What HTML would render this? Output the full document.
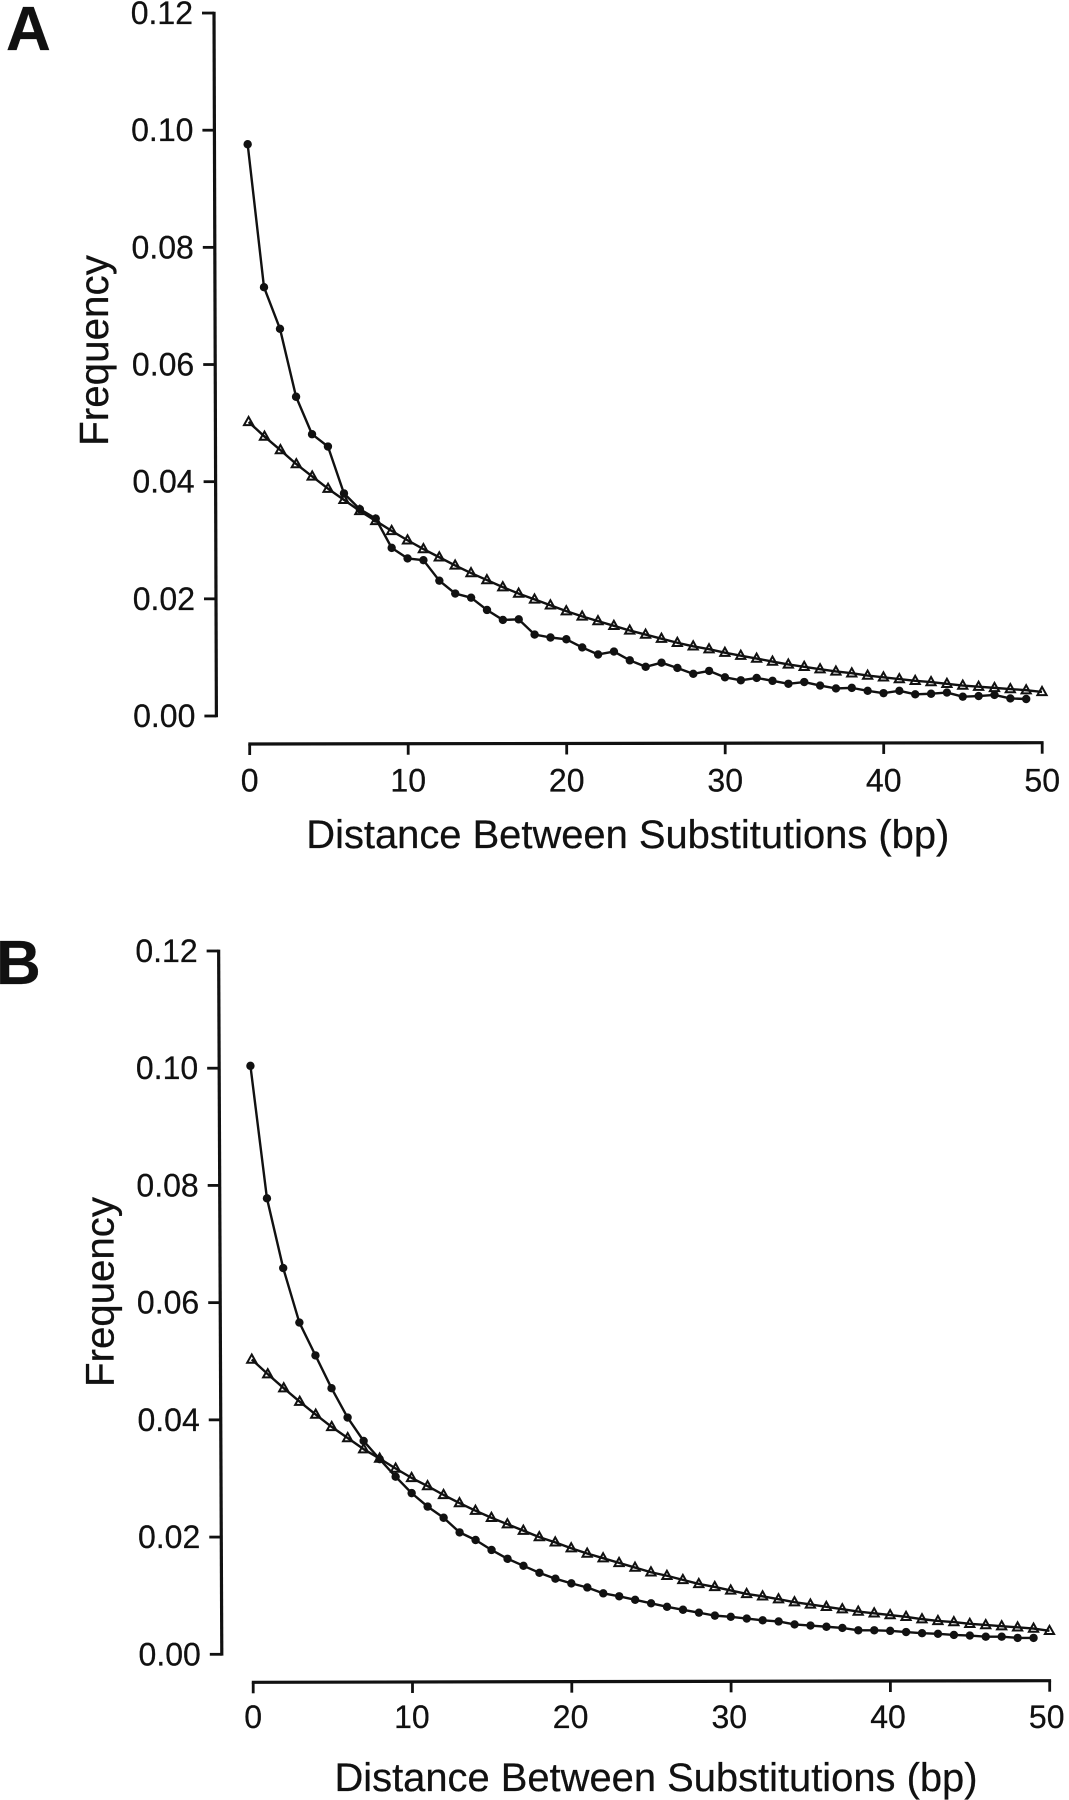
<!DOCTYPE html>
<html lang="en">
<head>
<meta charset="utf-8">
<title>Distance Between Substitutions</title>
<style>
html,body{margin:0;padding:0;background:#fff;}
svg{display:block;}
text{font-family:"Liberation Sans",Arial,sans-serif;fill:#111;stroke:#111;stroke-width:0.25px;}
</style>
</head>
<body>
<svg id="figure" xmlns="http://www.w3.org/2000/svg" width="1069" height="1800" viewBox="0 0 1069 1800">
  <rect x="0" y="0" width="1069" height="1800" fill="#fff"/>
  <text x="6" y="50" font-size="62" font-weight="700" fill="#000">A</text>
  <text x="-4" y="984" font-size="62" font-weight="700" fill="#000">B</text>
  <text x="627.8" y="848" font-size="39.9" text-anchor="middle">Distance Between Substitutions (bp)</text>
  <text x="656" y="1791" font-size="39.9" text-anchor="middle">Distance Between Substitutions (bp)</text>
  <text transform="translate(108 350.5) rotate(-90)" font-size="40.4" text-anchor="middle">Frequency</text>
  <text transform="translate(113.5 1292) rotate(-90)" font-size="40.2" text-anchor="middle">Frequency</text>
</svg>
<script>
var yTickValues = [0, 0.02, 0.04, 0.06, 0.08, 0.10, 0.12];
var yTickLabels = ["0.00", "0.02", "0.04", "0.06", "0.08", "0.10", "0.12"];
var xTickValues = [0, 10, 20, 30, 40, 50];
var xTickLabels = ["0", "10", "20", "30", "40", "50"];

var panelAObserved = [0.0976,0.0732,0.0661,0.0545,0.0481,0.0460,0.0380,0.0353,0.0337,0.0287,0.0269,0.0266,0.0231,0.0209,0.0202,0.0181,0.0164,0.0165,0.0139,0.0134,0.0131,0.0117,0.0105,0.0110,0.0095,0.0084,0.0091,0.0082,0.0072,0.0077,0.0066,0.0061,0.0065,0.0060,0.0055,0.0058,0.0052,0.0047,0.0048,0.0043,0.0039,0.0043,0.0037,0.0038,0.0040,0.0033,0.0034,0.0036,0.0030,0.0029];
var panelAExpected = [0.0502,0.0477,0.0454,0.0430,0.0409,0.0388,0.0369,0.0350,0.0333,0.0316,0.0300,0.0285,0.0271,0.0257,0.0244,0.0232,0.0220,0.0209,0.0199,0.0189,0.0179,0.0170,0.0162,0.0154,0.0146,0.0139,0.0132,0.0125,0.0119,0.0114,0.0108,0.0103,0.0098,0.0093,0.0088,0.0084,0.0080,0.0076,0.0073,0.0069,0.0066,0.0063,0.0060,0.0058,0.0055,0.0052,0.0050,0.0048,0.0046,0.0044,0.0041];
var panelBObserved = [0.1004,0.0778,0.0659,0.0566,0.0510,0.0454,0.0404,0.0364,0.0333,0.0303,0.0275,0.0252,0.0233,0.0208,0.0195,0.0178,0.0163,0.0151,0.0139,0.0129,0.0121,0.0114,0.0104,0.0099,0.0093,0.0087,0.0081,0.0076,0.0071,0.0066,0.0064,0.0061,0.0058,0.0056,0.0051,0.0049,0.0047,0.0045,0.0041,0.0041,0.0040,0.0038,0.0036,0.0035,0.0033,0.0032,0.0030,0.0030,0.0028,0.0028];
var panelBExpected = [0.0503,0.0478,0.0454,0.0431,0.0409,0.0388,0.0369,0.0350,0.0334,0.0317,0.0301,0.0287,0.0272,0.0258,0.0245,0.0233,0.0222,0.0211,0.0200,0.0191,0.0181,0.0172,0.0164,0.0156,0.0148,0.0140,0.0134,0.0127,0.0120,0.0115,0.0109,0.0103,0.0099,0.0094,0.0089,0.0085,0.0081,0.0077,0.0073,0.0070,0.0067,0.0064,0.0060,0.0057,0.0055,0.0052,0.0050,0.0048,0.0046,0.0044,0.0040];

var SVGNS = "http://www.w3.org/2000/svg";
var figure = document.getElementById("figure");

function makeEl(tag, attrs, parent) {
  var el = document.createElementNS(SVGNS, tag);
  for (var k in attrs) { el.setAttribute(k, attrs[k]); }
  parent.appendChild(el);
  return el;
}

function drawPanel(p) {
  var group = makeEl("g", {}, figure);
  
  

  function yScale(v) { return p.yZero - v * p.yPerUnit; }
  function xScale(d, y) { return p.xZero + d * p.xPerUnit + (y - p.xAxisY) * p.skew; }
  function yAxisX(y) { return p.yAxisBottomX + (y - p.yZero) * p.skew; }
  function xAxisY(d) { return p.xAxisY + d * p.xAxisSlope; }

  // y axis
  var yTop = yScale(0.12);
  var yLine = makeEl("line", {x1: yAxisX(yTop), y1: yTop - 1.3, x2: yAxisX(p.yZero), y2: p.yZero + 1.3, stroke: "#111", "stroke-width": 3.2}, group);
  
  
  yTickValues.forEach(function (v, i) {
    var y = yScale(v);
    var ax = yAxisX(y);
    var tick = makeEl("line", {x1: ax - 12, y1: y, x2: ax, y2: y, stroke: "#111", "stroke-width": 2.8}, group);
    
    
    var label = makeEl("text", {x: ax - 21, y: y + 11, "font-size": 32, "text-anchor": "end"}, group);
    label.textContent = yTickLabels[i];
    
    
  });

  // x axis
  var xLine = makeEl("line", {
    x1: xScale(0, xAxisY(0)) - 1.4, y1: xAxisY(0),
    x2: xScale(50, xAxisY(50)) + 1.4, y2: xAxisY(50),
    stroke: "#111", "stroke-width": 3.2
  }, group);
  
  
  xTickValues.forEach(function (d, i) {
    var y = xAxisY(d);
    var x = xScale(d, y);
    var tick = makeEl("line", {x1: x, y1: y, x2: x, y2: y + 11, stroke: "#111", "stroke-width": 2.8}, group);
    
    
    var label = makeEl("text", {x: x - d * p.labelDrift, y: p.xLabelY, "font-size": 32, "text-anchor": "middle"}, group);
    label.textContent = xTickLabels[i];
    
    
  });

  // observed series (filled circles)
  var ptsO = p.observed.map(function (v, d) {
    var y = yScale(v);
    return xScale(d, y).toFixed(2) + "," + y.toFixed(2);
  });
  var lineO = makeEl("polyline", {points: ptsO.join(" "), fill: "none", stroke: "#111", "stroke-width": 2.4, "stroke-linejoin": "round"}, group);
  
  
  p.observed.forEach(function (v, d) {
    var y = yScale(v);
    var dot = makeEl("circle", {cx: xScale(d, y), cy: y, r: 4.2, fill: "#111"}, group);
    
    
  });

  // expected series (open triangles)
  var ptsE = p.expected.map(function (v, d) {
    var y = yScale(v);
    return xScale(d, y).toFixed(2) + "," + y.toFixed(2);
  });
  var lineE = makeEl("polyline", {points: ptsE.join(" "), fill: "none", stroke: "#111", "stroke-width": 2.4, "stroke-linejoin": "round"}, group);
  
  
  p.expected.forEach(function (v, d) {
    var y = yScale(v);
    var x = xScale(d, y);
    var pts = [x, y - 5, x + 4.6, y + 3.2, x - 4.6, y + 3.2].map(function (n) { return n.toFixed(2); });
    var tri = makeEl("polygon", {points: pts.join(" "), fill: "none", stroke: "#111", "stroke-width": 2}, group);
    
    
  });
}

drawPanel({
  name: "panel-a", observed: panelAObserved, expected: panelAExpected,
  yZero: 716, yPerUnit: 5858, yAxisBottomX: 216.4, labelDrift: 0,
  xZero: 249.7, xPerUnit: 15.85, xAxisY: 744, xAxisSlope: -0.026, xLabelY: 791.5, skew: 0.0034
});
drawPanel({
  name: "panel-b", observed: panelBObserved, expected: panelBExpected,
  yZero: 1654.3, yPerUnit: 5861, yAxisBottomX: 221.8, labelDrift: 0.06,
  xZero: 253.2, xPerUnit: 15.93, xAxisY: 1682.3, xAxisSlope: -0.032, xLabelY: 1728, skew: 0.0045
});
</script>
</body>
</html>
